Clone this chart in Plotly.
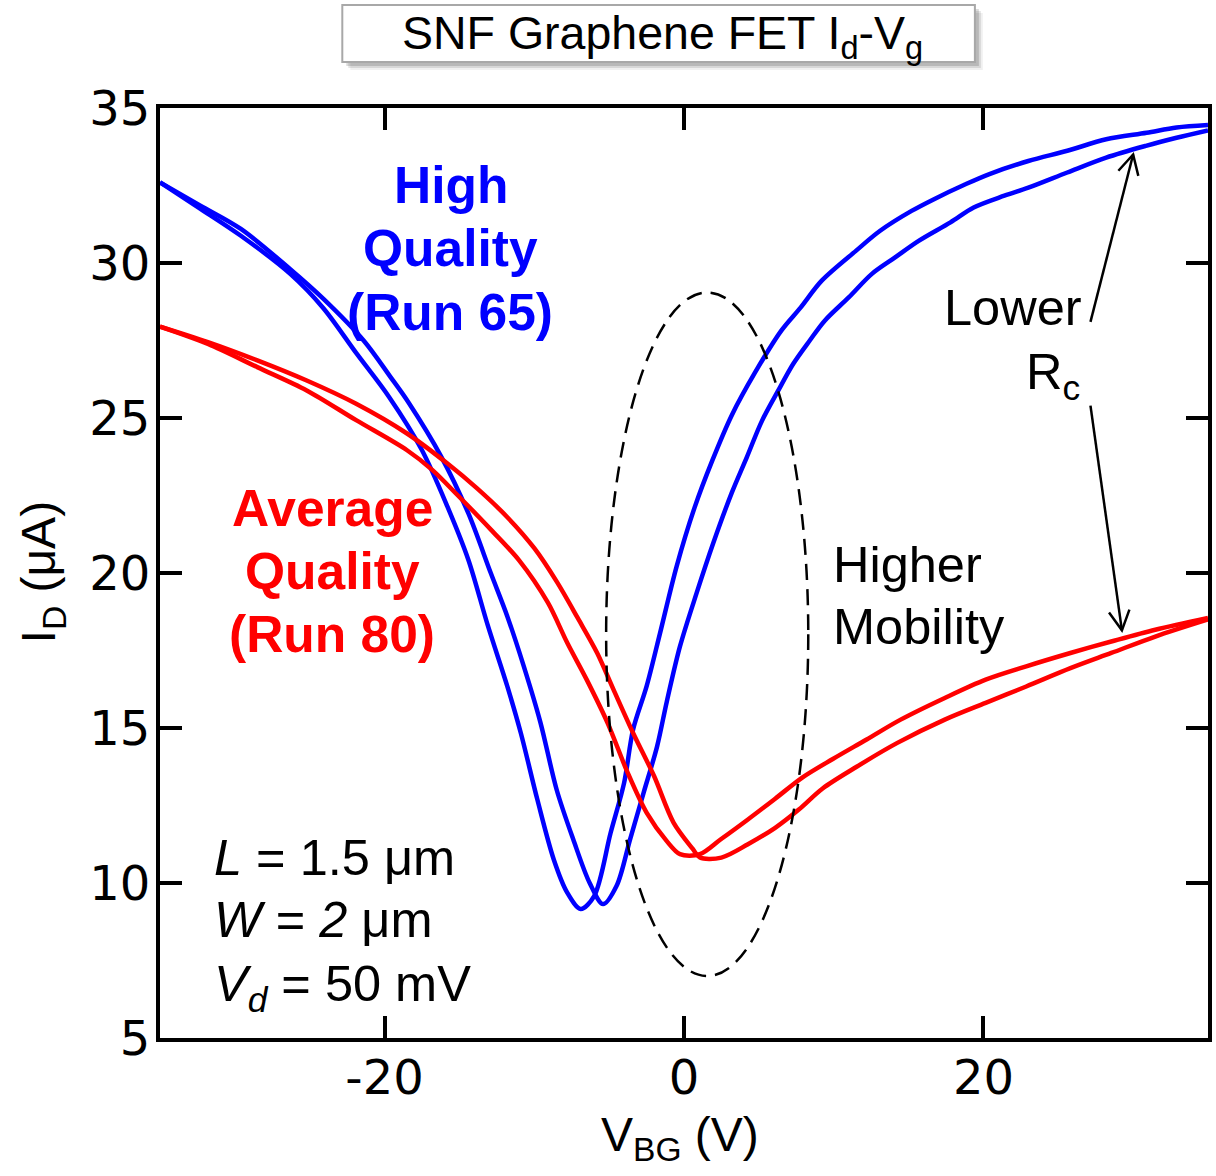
import math
import plotly.graph_objects as go

# ---------------- data ----------------
# High quality device (Run 65), two sweep directions
blue_a_v = [-35, -32.3, -29.6, -26.3, -24.1, -21.9, -19.7, -17.5, -15.8, -14.4, -13.1, -11.8, -10.9,
            -9.8, -8.7, -7.8, -6.9, -6.0, -4.9, -4.0, -3.4, -2.5, -1.6, -0.5, 0.7, 1.9, 3.2, 4.7,
            6.5, 7.8, 9.2, 11.5, 13.1, 15.2, 16.7, 18.8, 20.4, 23.0, 25.6, 28.2, 30.9, 32.9, 35]
blue_a_i = [32.6, 31.75, 30.88, 29.65, 28.55, 27.1, 25.68, 23.96, 22.14, 20.42, 18.3, 16.34, 14.84,
            12.70, 10.76, 9.69, 9.16, 9.58, 11.62, 13.23, 14.95, 16.34, 18.06, 20.2, 22.1, 23.64, 25.1, 26.43,
            27.82, 28.57, 29.43, 30.4, 31.04, 31.68, 32.06, 32.54, 32.87, 33.29, 33.62, 33.99, 34.2, 34.37, 34.45]

blue_b_v = [-35, -32.3, -29.6, -26.3, -24.1, -21.4, -19.6, -18.4, -16.2, -14.4, -12.9, -11.8, -10.7,
            -9.6, -8.5, -7.4, -6.3, -5.4, -4.5, -3.6, -2.7, -1.8, -1.15, -0.27, 0.84, 1.95, 3.2, 4.2,
            5.2, 6.3, 7.3, 8.4, 9.4, 11.0, 12.55, 14.1, 15.7, 17.8, 19.35, 21.4, 23.0, 25.6, 28.2,
            30.85, 32.9, 35]
blue_b_i = [32.6, 31.85, 31.1, 29.8, 28.85, 27.5, 26.32, 25.5, 23.74, 21.92, 19.99, 18.6, 16.99,
            15.2, 13.0, 11.41, 10.0, 9.32, 9.91, 11.41, 12.91, 14.4, 15.85, 17.63, 19.35, 20.96, 22.6, 23.74,
            24.9, 25.89, 26.75, 27.5, 28.14, 28.89, 29.65, 30.18, 30.72, 31.31, 31.79, 32.17, 32.43, 32.92, 33.4,
            33.78, 34.04, 34.28]

# Average quality device (Run 80), two sweep directions
red_a_v = [-35, -31.8, -28.5, -25.2, -21.9, -18.5, -16.8, -15.1, -12.9, -11.0, -9.1, -7.8, -6.5,
           -5.1, -3.8, -2.5, -1.15, -0.27, 1.06, 2.46, 4.27, 6.09, 7.9, 9.94, 12.2, 14.47, 17.42,
           20.15, 22.86, 25.81, 28.54, 31.48, 35]
red_a_i = [27.95, 27.39, 26.64, 25.89, 24.93, 23.96, 23.32, 22.5, 21.4, 20.4, 19.05, 17.75, 16.56,
           15.16, 13.6, 12.27, 11.35, 10.93, 10.93, 11.41, 12.05, 12.72, 13.4, 14.0, 14.63, 15.27, 15.97,
           16.56, 16.99, 17.42, 17.79, 18.17, 18.55]

red_b_v = [-35, -31.8, -28.5, -25.2, -21.9, -18.5, -15.8, -13.8, -11.8, -10.0, -8.5, -7.1, -5.8,
           -4.7, -3.4, -2.0, -0.7, 0.6, 1.06, 2.5, 4.27, 6.09, 7.67, 9.26, 11.53, 14.25, 17.42,
           20.15, 22.86, 25.81, 28.54, 31.48, 35]
red_b_i = [27.95, 27.45, 26.86, 26.21, 25.46, 24.5, 23.53, 22.72, 21.8, 20.8, 19.72, 18.55, 17.42,
           16.23, 14.84, 13.45, 11.95, 11.09, 10.82, 10.82, 11.25, 11.78, 12.37, 13.05, 13.75, 14.52, 15.27,
           15.81, 16.34, 16.93, 17.42, 17.95, 18.5]

x_ticks = [-20, 0, 20]
y_ticks = [5, 10, 15, 20, 25, 30, 35]

# ---------------- layout geometry ----------------
W, H = 1216, 1176
ML, MR, MT, MB = 160, 4, 108, 138
PW, PH = W - ML - MR, H - MT - MB
XR, YR = [-35, 35], [5, 35]
SX = PW / (XR[1] - XR[0])
SY = PH / (YR[1] - YR[0])


def px_to_paper(px, py):
    return (px - ML) / PW, (H - MB - py) / PH


BLUE = "#0000FF"
RED = "#FF0000"
TXT = "Liberation Sans"

fig = go.Figure()
for xs, ys, col in [(blue_a_v, blue_a_i, BLUE), (blue_b_v, blue_b_i, BLUE),
                    (red_a_v, red_a_i, RED), (red_b_v, red_b_i, RED)]:
    fig.add_trace(go.Scatter(x=xs, y=ys, mode="lines",
                             line=dict(color=col, width=4.5, shape="spline", smoothing=0.9),
                             showlegend=False, hoverinfo="skip"))

shapes = []
annotations = []

# dashed ellipse around the Dirac points
ellipse = dict(x0=-5.2, x1=8.3, y0=7.0, y1=29.05)
shapes.append(dict(type="circle", xref="x", yref="y", **ellipse,
                   line=dict(color="black", width=2.5, dash="16px,9px")))

# arrows (tail -> tip), open V heads
arrows = [((27.15, 28.1), (30.0, 33.5)), ((27.15, 25.4), (29.25, 18.15))]
for (tx, ty), (hx, hy) in arrows:
    shapes.append(dict(type="line", xref="x", yref="y", x0=tx, y0=ty, x1=hx, y1=hy,
                       line=dict(color="black", width=2.5)))
    dx, dy = (hx - tx) * SX, (hy - ty) * SY
    n = math.hypot(dx, dy)
    bx, by = -dx / n, -dy / n
    pts = []
    for s in (1, -1):
        a = math.radians(28) * s
        rx = bx * math.cos(a) - by * math.sin(a)
        ry = bx * math.sin(a) + by * math.cos(a)
        pts.append((hx + 22 * rx / SX, hy + 22 * ry / SY))
    path = f"M {pts[0][0]},{pts[0][1]} L {hx},{hy} L {pts[1][0]},{pts[1][1]}"
    shapes.append(dict(type="path", xref="x", yref="y", path=path,
                       line=dict(color="black", width=2.5)))

# title box with soft shadow
bx0, by1 = px_to_paper(343, 5)
bx1, by0 = px_to_paper(978, 62)
for off, col in [(8, "rgba(0,0,0,0.06)"), (6, "rgba(0,0,0,0.10)"), (4, "rgba(0,0,0,0.14)")]:
    ox = off / PW
    oy = off / PH
    shapes.append(dict(type="rect", xref="paper", yref="paper", x0=bx0 + ox, x1=bx1 + ox,
                       y0=by0 - oy, y1=by1 - oy, line=dict(width=0), fillcolor=col, layer="above"))
shapes.append(dict(type="rect", xref="paper", yref="paper", x0=bx0, x1=bx1, y0=by0, y1=by1,
                   line=dict(color="#a8a8a8", width=2), fillcolor="white", layer="above"))
tx_, ty_ = px_to_paper(664, 36)
annotations.append(dict(xref="paper", yref="paper", x=tx_, y=ty_, xanchor="center", yanchor="middle",
                        text="SNF Graphene FET I<sub>d</sub>-V<sub>g</sub>", showarrow=False,
                        font=dict(family=TXT, size=46.5, color="black")))

# in-plot labels
labels = [
    ("<b>High</b>", -15.57, 32.52, "center", BLUE),
    ("<b>Quality</b>", -15.57, 30.48, "center", BLUE),
    ("<b>(Run 65)</b>", -15.6, 28.42, "center", BLUE),
    ("<b>Average</b>", -23.5, 22.1, "center", RED),
    ("<b>Quality</b>", -23.5, 20.06, "center", RED),
    ("<b>(Run 80)</b>", -23.5, 18.03, "center", RED),
]
for t, x, y, anc, col in labels:
    annotations.append(dict(x=x, y=y, xref="x", yref="y", text=t, showarrow=False,
                            xanchor=anc, yanchor="middle",
                            font=dict(family=TXT, size=51.5, color=col)))

notes = [
    ("Higher", 9.85, 20.26, "left"),
    ("Mobility", 9.85, 18.26, "left"),
    ("Lower", 26.7, 28.58, "right"),
    ("R<sub>c</sub>", 26.6, 26.4, "right"),
    ("<i>L</i> = 1.5 μm", -31.5, 10.81, "left"),
    ("<i>W</i> = <i>2</i> μm", -31.5, 8.81, "left"),
    ("<i>V<sub>d</sub></i> = 50 mV", -31.5, 6.65, "left"),
]
for t, x, y, anc in notes:
    annotations.append(dict(x=x, y=y, xref="x", yref="y", text=t, showarrow=False,
                            xanchor=anc, yanchor="middle",
                            font=dict(family=TXT, size=50.5, color="black")))

# axis titles
ax_x, ax_y = px_to_paper(682, 1138)
annotations.append(dict(xref="paper", yref="paper", x=ax_x, y=ax_y, xanchor="center", yanchor="middle",
                        text="V<sub>BG</sub> (V)", showarrow=False,
                        font=dict(family=TXT, size=48, color="black")))
ay_x, ay_y = px_to_paper(42, 572)
annotations.append(dict(xref="paper", yref="paper", x=ay_x, y=ay_y, xanchor="center", yanchor="middle",
                        text="I<sub>D</sub> (μA)", showarrow=False, textangle=-90,
                        font=dict(family=TXT, size=48, color="black")))

axis_common = dict(showline=True, linewidth=4, linecolor="black", mirror="ticks",
                   ticks="inside", ticklen=22, tickwidth=4, tickcolor="black",
                   showgrid=False, zeroline=False,
                   tickfont=dict(family="DejaVu Sans", size=48, color="black"))

fig.update_layout(
    width=W, height=H,
    margin=dict(l=ML, r=MR, t=MT, b=MB, pad=0),
    paper_bgcolor="white", plot_bgcolor="white",
    xaxis=dict(range=XR, tickvals=x_ticks, ticktext=[str(v) for v in x_ticks],
               ticklabelstandoff=-6, **axis_common),
    yaxis=dict(range=YR, tickvals=y_ticks, ticktext=[str(v) for v in y_ticks],
               ticklabelstandoff=-4, **axis_common),
    shapes=shapes, annotations=annotations,
)

fig.write_html("out.html")
